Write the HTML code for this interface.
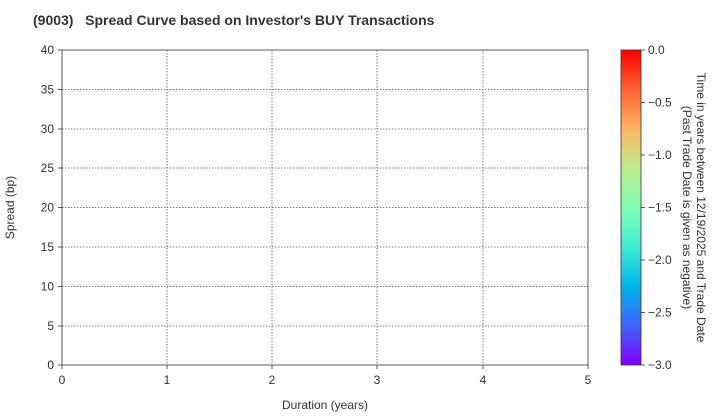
<!DOCTYPE html>
<html><head><meta charset="utf-8"><style>
body{margin:0;background:#fff;}
svg{display:block;font-family:"Liberation Sans",Arial,sans-serif;}
</style></head><body>
<svg width="720" height="420" viewBox="0 0 720 420" xmlns="http://www.w3.org/2000/svg">
<defs>
<linearGradient id="rb" x1="0" y1="1" x2="0" y2="0">
<stop offset="0" stop-color="rgb(128,0,255)"/>
<stop offset="0.125" stop-color="rgb(64,98,250)"/>
<stop offset="0.25" stop-color="rgb(0,181,235)"/>
<stop offset="0.375" stop-color="rgb(64,236,212)"/>
<stop offset="0.5" stop-color="rgb(128,255,180)"/>
<stop offset="0.625" stop-color="rgb(191,236,142)"/>
<stop offset="0.75" stop-color="rgb(255,180,98)"/>
<stop offset="0.875" stop-color="rgb(255,98,50)"/>
<stop offset="1" stop-color="rgb(255,0,0)"/>
</linearGradient>
</defs>
<text x="33" y="25" font-size="14" font-weight="bold" fill="#333" xml:space="preserve" style="white-space:pre">(9003)   Spread Curve based on Investor's BUY Transactions</text>
<g stroke="#555" stroke-width="0.8" stroke-dasharray="1.5,1.5">
<line x1="167" y1="50" x2="167" y2="365"/>
<line x1="272" y1="50" x2="272" y2="365"/>
<line x1="377" y1="50" x2="377" y2="365"/>
<line x1="483" y1="50" x2="483" y2="365"/>
<line x1="62" y1="326" x2="588" y2="326"/>
<line x1="62" y1="286.5" x2="588" y2="286.5"/>
<line x1="62" y1="247" x2="588" y2="247"/>
<line x1="62" y1="207.5" x2="588" y2="207.5"/>
<line x1="62" y1="168" x2="588" y2="168"/>
<line x1="62" y1="129" x2="588" y2="129"/>
<line x1="62" y1="89.5" x2="588" y2="89.5"/>
</g>
<rect x="62" y="50" width="526" height="315" fill="none" stroke="#333" stroke-width="0.8"/>
<g stroke="#333" stroke-width="0.8">
<line x1="62" y1="365" x2="62" y2="369"/><line x1="167" y1="365" x2="167" y2="369"/><line x1="272" y1="365" x2="272" y2="369"/><line x1="377" y1="365" x2="377" y2="369"/><line x1="483" y1="365" x2="483" y2="369"/><line x1="588" y1="365" x2="588" y2="369"/>
<line x1="58" y1="365" x2="62" y2="365"/><line x1="58" y1="326" x2="62" y2="326"/><line x1="58" y1="286.5" x2="62" y2="286.5"/><line x1="58" y1="247" x2="62" y2="247"/><line x1="58" y1="207.5" x2="62" y2="207.5"/><line x1="58" y1="168" x2="62" y2="168"/><line x1="58" y1="129" x2="62" y2="129"/><line x1="58" y1="89.5" x2="62" y2="89.5"/><line x1="58" y1="50" x2="62" y2="50"/>
</g>
<g font-size="12" fill="#333" text-anchor="middle">
<text x="62" y="384">0</text><text x="167" y="384">1</text><text x="272" y="384">2</text><text x="377" y="384">3</text><text x="483" y="384">4</text><text x="588" y="384">5</text>
<text x="325" y="409">Duration (years)</text>
</g>
<g font-size="12" fill="#333" text-anchor="end">
<text x="54" y="369">0</text><text x="54" y="330">5</text><text x="54" y="290.5">10</text><text x="54" y="251">15</text><text x="54" y="211.5">20</text><text x="54" y="172">25</text><text x="54" y="133">30</text><text x="54" y="93.5">35</text><text x="54" y="54">40</text>
</g>
<text transform="translate(14,207.5) rotate(-90)" font-size="12" fill="#333" text-anchor="middle">Spread (bp)</text>
<rect x="621" y="50" width="20" height="315" fill="url(#rb)" stroke="#333" stroke-width="0.8"/>
<g stroke="#333" stroke-width="0.8">
<line x1="641" y1="50" x2="645" y2="50"/><line x1="641" y1="102.5" x2="645" y2="102.5"/><line x1="641" y1="155" x2="645" y2="155"/><line x1="641" y1="207.5" x2="645" y2="207.5"/><line x1="641" y1="260" x2="645" y2="260"/><line x1="641" y1="312.5" x2="645" y2="312.5"/><line x1="641" y1="365" x2="645" y2="365"/>
</g>
<g font-size="12" fill="#333">
<text x="648" y="54">0.0</text><text x="648" y="106.5">−0.5</text><text x="648" y="159">−1.0</text><text x="648" y="211.5">−1.5</text><text x="648" y="264">−2.0</text><text x="648" y="316.5">−2.5</text><text x="648" y="369">−3.0</text>
</g>
<text transform="translate(697,207.5) rotate(90)" font-size="12" fill="#333" text-anchor="middle">Time in years between 12/19/2025 and Trade Date</text>
<text transform="translate(683,207.5) rotate(90)" font-size="12" fill="#333" text-anchor="middle">(Past Trade Date is given as negative)</text>
</svg>
</body></html>
